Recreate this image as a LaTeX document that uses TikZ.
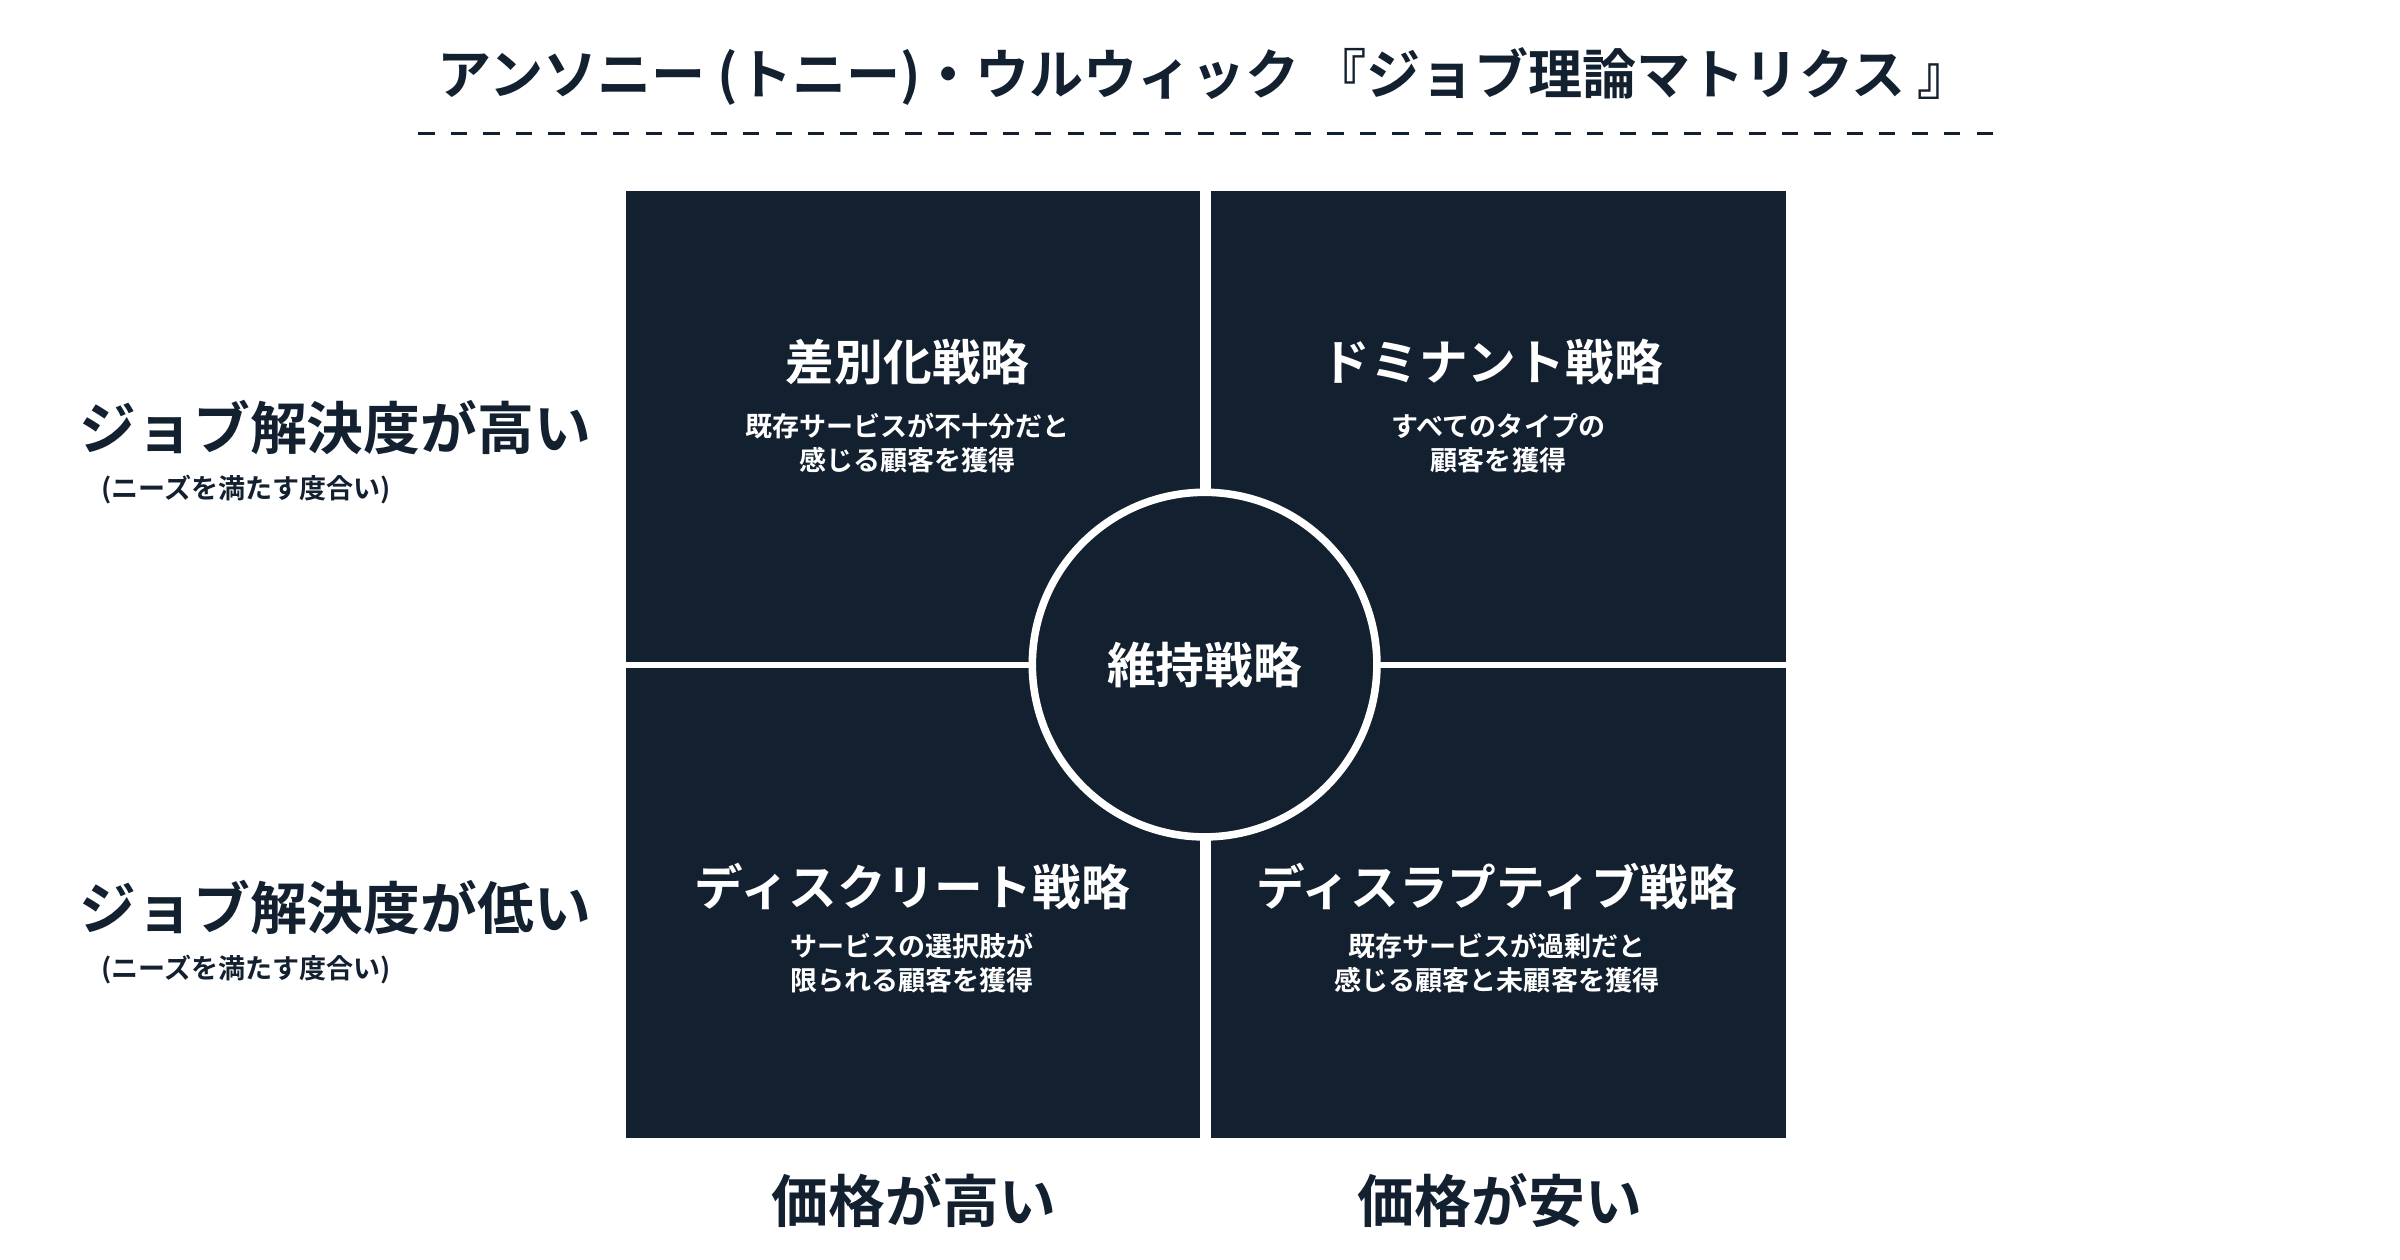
\documentclass[tikz,border=0pt]{standalone}
\usepackage{fontspec}
\setmainfont{Noto Sans CJK JP}[BoldFont={* Bold}]
\definecolor{navy}{HTML}{132030}
\tikzset{
  quad/.style={fill=navy, draw=none},
  qtitle/.style={text=white, font=\fontsize{9}{11}\selectfont\bfseries},
  qtext/.style={text=white, font=\fontsize{5}{6.3}\selectfont\bfseries, align=center},
  axis/.style={text=navy, font=\fontsize{10.5}{12}\selectfont\bfseries},
  axisnote/.style={text=navy, font=\fontsize{5}{6}\selectfont\bfseries}
}
\begin{document}
\begin{tikzpicture}[x=0.01cm, y=-0.01cm]
    \useasboundingbox (0,0) rectangle (1560,819);
    % Titel
    \node[text=navy, font=\fontsize{10}{12}\selectfont\bfseries] (title) at (783,50)
        {アンソニー (トニー)・ウルウィック 『ジョブ理論マトリクス 』};
    \draw[navy, dashed, line width=0.6pt] (272,87) -- (1297,87);

    % Quadranten
    \fill[quad] (407,124) rectangle (780,430);
    \fill[quad] (787,124) rectangle (1161,430);
    \fill[quad] (407,434) rectangle (780,740);
    \fill[quad] (787,434) rectangle (1161,740);

    % Kreis
    \draw[fill=navy, draw=white, line width=1.4pt] (783,432) circle (112);
    \node[qtitle] (center) at (783,432) {維持戦略};

    % Texte der Quadranten
    \node[qtitle] (q1) at (590,235) {差別化戦略};
    \node[qtext] (q1t) at (590,288) {既存サービスが不十分だと\\感じる顧客を獲得};
    \node[qtitle] (q2) at (970,235) {ドミナント戦略};
    \node[qtext] (q2t) at (974,288) {すべてのタイプの\\顧客を獲得};
    \node[qtitle] (q3) at (593,576) {ディスクリート戦略};
    \node[qtext] (q3t) at (593,626) {サービスの選択肢が\\限られる顧客を獲得};
    \node[qtitle] (q4) at (973,576) {ディスラプティブ戦略};
    \node[qtext] (q4t) at (973,626) {既存サービスが過剰だと\\感じる顧客と未顧客を獲得};

    % Achsen
    \node[axis] (hi) at (218,278) {ジョブ解決度が高い};
    \node[axisnote] (hin) at (160,318) {(ニーズを満たす度合い)};
    \node[axis] (lo) at (218,590) {ジョブ解決度が低い};
    \node[axisnote] (lon) at (160,630) {(ニーズを満たす度合い)};
    \node[axis] (ph) at (594,780) {価格が高い};
    \node[axis] (pl) at (975,780) {価格が安い};
\end{tikzpicture}
\end{document}
